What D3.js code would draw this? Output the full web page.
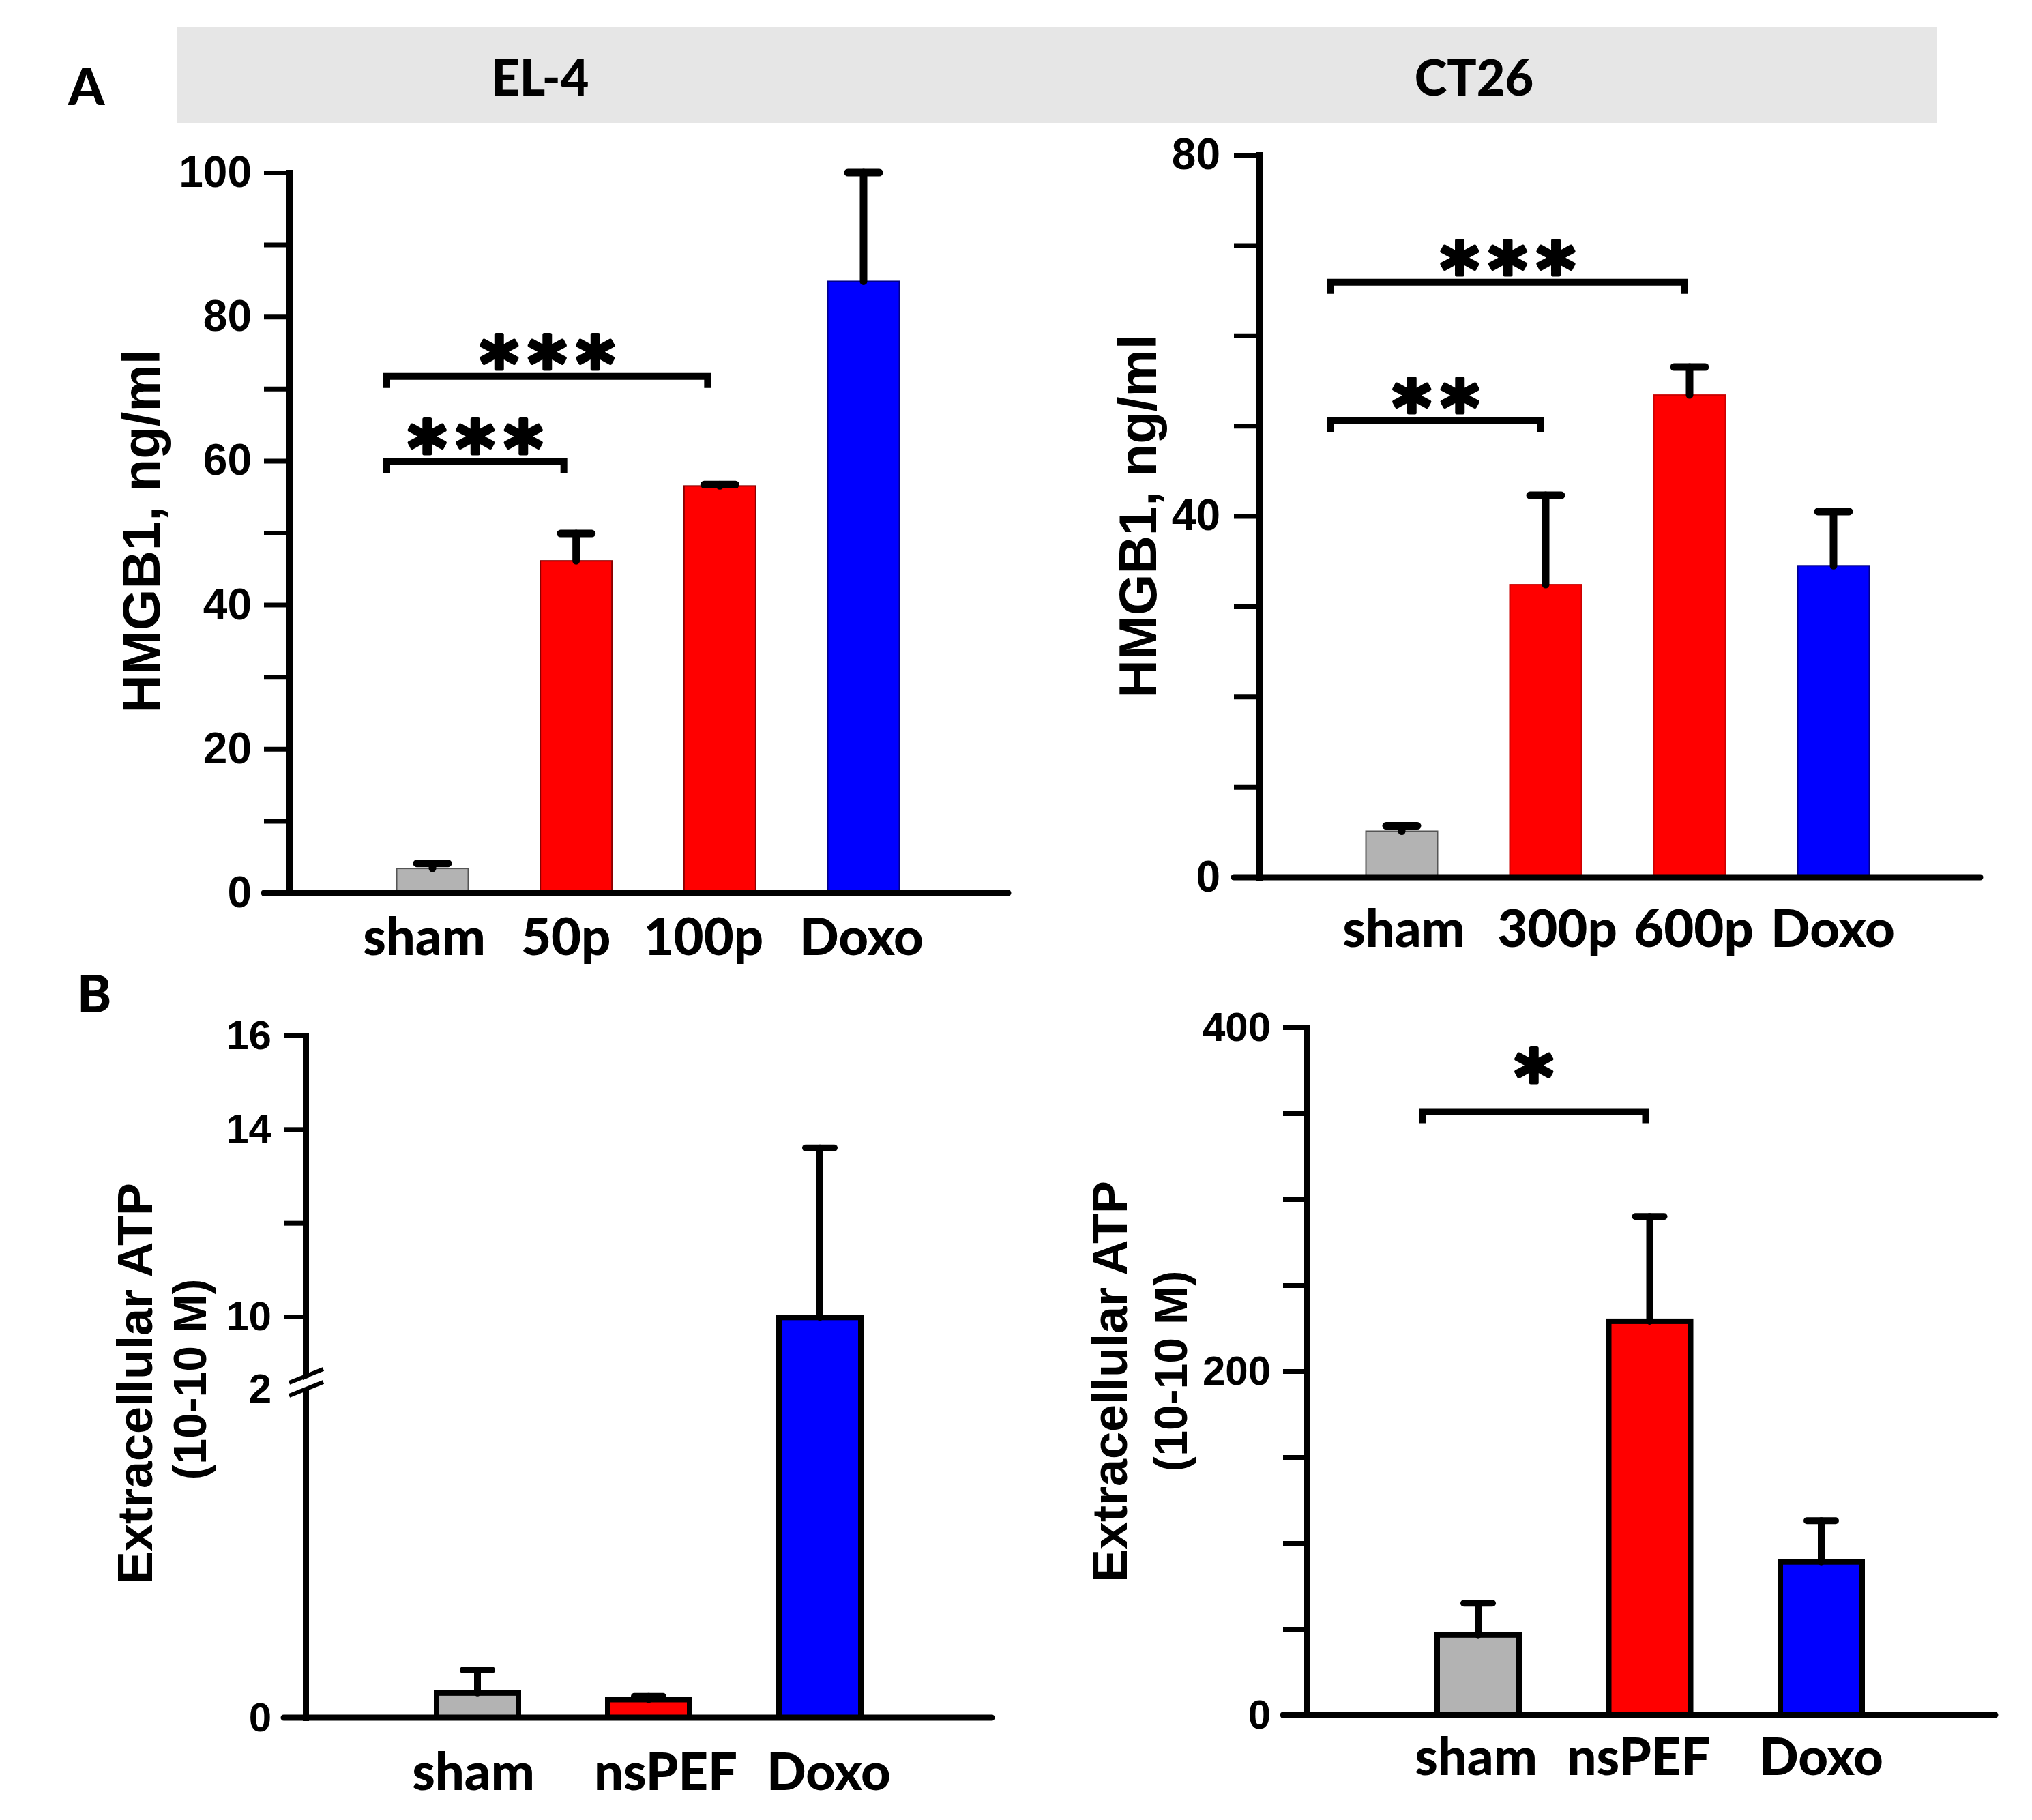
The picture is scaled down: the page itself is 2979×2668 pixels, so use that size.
<!DOCTYPE html>
<html>
<head>
<meta charset="utf-8">
<script src="https://cdn.jsdelivr.net/npm/d3@7"></script>
<style>
  body { margin: 0; background: #fff; }
  svg { display: block; }
</style>
</head>
<body>
<svg id="chart" width="2979" height="2668"></svg>
<script>
// ---- data ----
// A, EL-4: HMGB1 (ng/ml)
const el4Groups = ["sham", "50p", "100p", "Doxo"];
const el4Means = [3.4, 46.1, 56.5, 84.9];
const el4Errors = [0.7, 3.8, 0.2, 15.1];
const el4Ticks = [0, 10, 20, 30, 40, 50, 60, 70, 80, 90, 100];
const el4TickLabels = [0, 20, 40, 60, 80, 100];
const el4Brackets = [
    { from: "sham", to: "50p", value: 59.9, label: "***" },
    { from: "sham", to: "100p", value: 71.7, label: "***" },
];

// A, CT26: HMGB1 (ng/ml)
const ct26Groups = ["sham", "300p", "600p", "Doxo"];
const ct26Means = [5.1, 32.4, 53.4, 34.5];
const ct26Errors = [0.6, 9.9, 3.1, 6.0];
const ct26Ticks = [0, 10, 20, 30, 40, 50, 60, 70, 80];
const ct26TickLabels = [0, 40, 80];
const ct26Brackets = [
    { from: "sham", to: "300p", value: 50.6, label: "**" },
    { from: "sham", to: "600p", value: 65.9, label: "***" },
];

// B, EL-4: extracellular ATP (10-10 M), broken axis
const atpEl4Groups = ["sham", "nsPEF", "Doxo"];
const atpEl4Means = [0.15, 0.11, 9.9];
const atpEl4Errors = [0.14, 0.02, 3.7];
const atpEl4Ticks = [0, 2, 10, 12, 14, 16];
const atpEl4TickLabels = [0, 2, 10, 14, 16];
const atpEl4Brackets = [];

// B, CT26: extracellular ATP (10-10 M)
const atpCt26Groups = ["sham", "nsPEF", "Doxo"];
const atpCt26Means = [46.5, 229, 89];
const atpCt26Errors = [18.5, 61, 24];
const atpCt26Ticks = [0, 50, 100, 150, 200, 250, 300, 350, 400];
const atpCt26TickLabels = [0, 200, 400];
const atpCt26Brackets = [
    { from: "sham", to: "nsPEF", value: 351, label: "*" },
];

const hmgbTitle = "HMGB1, ng/ml";
const atpTitle = ["Extracellular ATP", "(10-10 M)"];

// ---- colours ----
const sham = "#b3b3b3";
const red = "#ff0000";
const blue = "#0000ff";
const fills = {
    sham: sham, "50p": red, "100p": red, "300p": red, "600p": red, nsPEF: red, Doxo: blue,
};
const thinEdges = { sham: "#555", "50p": "#8a0000", "100p": "#8a0000", "300p": "#c00", "600p": "#c00", Doxo: "#00008a" };

const armFont = "'Liberation Sans', Arial, sans-serif";
const calFont = "Lato, 'Open Sans', sans-serif";
const calWeight = 900;
const starFont = "'DejaVu Sans', sans-serif";

const svg = d3.select("#chart");

// header band
svg.append("rect")
    .attr("x", 260).attr("y", 40)
    .attr("width", 2580).attr("height", 140)
    .attr("fill", "#e6e6e6");

svg.append("text").attr("x", 792).attr("y", 140)
    .attr("text-anchor", "middle")
    .style("font-family", calFont).style("font-weight", calWeight).style("font-size", "72px")
    .text("EL-4");
svg.append("text").attr("x", 2161).attr("y", 140)
    .attr("text-anchor", "middle")
    .style("font-family", calFont).style("font-weight", calWeight).style("font-size", "72px")
    .text("CT26");

// panel letters
svg.append("text").attr("x", 100).attr("y", 154)
    .style("font-family", calFont).style("font-weight", calWeight).style("font-size", "76px")
    .text("A");
svg.append("text").attr("x", 113).attr("y", 1484)
    .style("font-family", calFont).style("font-weight", calWeight).style("font-size", "76px")
    .text("B");

function drawPanel(cfg) {
    const g = svg.append("g");

    const y = d3.scaleLinear().domain(cfg.yDomain).range(cfg.yRange);
    const x = d3.scalePoint().domain(cfg.groups).range(cfg.xCenters);
    const y0 = y(0);

    // bars
    g.append("g")
        .selectAll("rect")
        .data(cfg.groups)
        .join("rect")
        .attr("x", (d) => x(d) - cfg.barW / 2)
        .attr("y", (d, i) => y(cfg.means[i]))
        .attr("width", cfg.barW)
        .attr("height", (d, i) => y0 - y(cfg.means[i]))
        .attr("fill", (d) => fills[d])
        .attr("stroke", (d) => (cfg.thick ? "#000" : thinEdges[d]))
        .attr("stroke-width", cfg.thick ? 8 : 2);

    // error bars (upper only)
    const err = g.append("g")
        .attr("stroke", "#000")
        .attr("stroke-linecap", "round")
        .attr("stroke-width", cfg.errW);
    err.selectAll("line.stem")
        .data(cfg.groups)
        .join("line")
        .attr("class", "stem")
        .attr("x1", (d) => x(d)).attr("x2", (d) => x(d))
        .attr("y1", (d, i) => y(cfg.means[i]))
        .attr("y2", (d, i) => y(cfg.means[i] + cfg.errors[i]));
    err.selectAll("line.cap")
        .data(cfg.groups)
        .join("line")
        .attr("class", "cap")
        .attr("x1", (d) => x(d) - cfg.capW / 2)
        .attr("x2", (d) => x(d) + cfg.capW / 2)
        .attr("y1", (d, i) => y(cfg.means[i] + cfg.errors[i]))
        .attr("y2", (d, i) => y(cfg.means[i] + cfg.errors[i]));

    // y axis
    const yAxis = d3.axisLeft(y)
        .tickValues(cfg.ticks)
        .tickSize(cfg.tickLen)
        .tickSizeOuter(0)
        .tickPadding(cfg.tickPad)
        .tickFormat((d) => (cfg.tickLabels.includes(d) ? d : ""));
    const ax = g.append("g")
        .attr("transform", `translate(${cfg.axisX},0)`)
        .call(yAxis);
    ax.select(".domain")
        .attr("stroke-width", 9)
        .attr("stroke-linecap", "square");
    ax.selectAll(".tick line").attr("stroke-width", 7);
    ax.selectAll(".tick text")
        .style("font-family", armFont)
        .style("font-weight", 700)
        .style("font-size", cfg.tickFont + "px")
        .attr("fill", "#000");
    if (cfg.hideTick !== undefined) {
        ax.selectAll(".tick").filter((d) => d === cfg.hideTick)
            .select("line").remove();
    }

    // x axis (extends left of the y axis as the 0 tick)
    g.append("line")
        .attr("x1", cfg.axisX - cfg.tickLen).attr("x2", cfg.xEnd)
        .attr("y1", y0).attr("y2", y0)
        .attr("stroke", "#000").attr("stroke-width", 9)
        .attr("stroke-linecap", "round");

    // broken axis marks
    if (cfg.breakAt !== undefined) {
        const yb = y(cfg.breakAt) - 15;
        const bx = cfg.axisX;
        const brk = g.append("g");
        brk.append("path")
            .attr("d", `M${bx - 24},${yb + 10} L${bx + 26},${yb - 10} L${bx + 26},${yb + 3} L${bx - 24},${yb + 23} Z`)
            .attr("fill", "#fff");
        brk.append("line")
            .attr("x1", bx - 24).attr("y1", yb + 6).attr("x2", bx + 26).attr("y2", yb - 14)
            .attr("stroke", "#000").attr("stroke-width", 6);
        brk.append("line")
            .attr("x1", bx - 24).attr("y1", yb + 25).attr("x2", bx + 26).attr("y2", yb + 5)
            .attr("stroke", "#000").attr("stroke-width", 6);
    }

    // category labels
    g.append("g")
        .selectAll("text")
        .data(cfg.groups)
        .join("text")
        .attr("x", (d, i) => x(d) + cfg.labelDx[i])
        .attr("y", cfg.labelY)
        .attr("text-anchor", "middle")
        .style("font-family", calFont)
        .style("font-weight", calWeight)
        .style("font-size", "76px")
        .text((d) => d);

    // axis title
    cfg.title.forEach((t, i) => {
        g.append("text")
            .attr("transform", `translate(${cfg.titleX[i]},${cfg.titleY[i]}) rotate(-90)`)
            .attr("text-anchor", "middle")
            .style("font-family", armFont)
            .style("font-weight", 700)
            .style("font-size", cfg.titleFont[i] + "px")
            .text(t);
    });

    // significance brackets
    const br = g.append("g");
    cfg.brackets.forEach((b) => {
        const x1 = x(b.from) + cfg.brDx[0];
        const x2 = x(b.to) + cfg.brDx[1];
        const yb = y(b.value);
        br.append("path")
            .attr("d", `M${x1},${yb + 17} V${yb} H${x2} V${yb + 17}`)
            .attr("fill", "none")
            .attr("stroke", "#000")
            .attr("stroke-width", 10);
        br.append("text")
            .attr("x", (x1 + x2) / 2 + 7)
            .attr("y", yb - cfg.starGap + 62)
            .attr("text-anchor", "middle")
            .style("font-family", starFont)
            .style("font-weight", 700)
            .style("font-size", "108px")
            .style("letter-spacing", "14px")
            .attr("stroke", "#000")
            .attr("stroke-width", 5)
            .attr("stroke-linejoin", "round")
            .text(b.label);
    });
}

drawPanel({
    groups: el4Groups, means: el4Means, errors: el4Errors,
    ticks: el4Ticks, tickLabels: el4TickLabels, brackets: el4Brackets,
    yDomain: [0, 100], yRange: [1309, 253],
    xCenters: [634, 1266], barW: 105, axisX: 424, xEnd: 1478,
    tickLen: 37, tickPad: 18, tickFont: 64, errW: 11, capW: 46, thick: false,
    labelDx: [-12, -15, -24, -3], labelY: 1400,
    title: [hmgbTitle], titleX: [234], titleY: [779], titleFont: [78],
    brDx: [-67, -18], starGap: 43,
});

drawPanel({
    groups: ct26Groups, means: ct26Means, errors: ct26Errors,
    ticks: ct26Ticks, tickLabels: ct26TickLabels, brackets: ct26Brackets,
    yDomain: [0, 80], yRange: [1286, 227],
    xCenters: [2055, 2688], barW: 105, axisX: 1846, xEnd: 2903,
    tickLen: 37, tickPad: 20, tickFont: 64, errW: 11, capW: 46, thick: false,
    labelDx: [3, 17, 6, -1], labelY: 1388,
    title: [hmgbTitle], titleX: [1695], titleY: [757], titleFont: [78],
    brDx: [-104, -7], starGap: 43,
});

drawPanel({
    groups: atpEl4Groups, means: atpEl4Means, errors: atpEl4Errors,
    ticks: atpEl4Ticks, tickLabels: atpEl4TickLabels, brackets: atpEl4Brackets,
    yDomain: [0, 2, 10, 16], yRange: [2518, 2036, 1930, 1518],
    xCenters: [700, 1202], barW: 120, axisX: 448, xEnd: 1454,
    tickLen: 32, tickPad: 18, tickFont: 60, errW: 10, capW: 42, thick: true,
    labelDx: [-6, 25, 13], labelY: 2624,
    title: atpTitle, titleX: [223, 302], titleY: [2028, 2022], titleFont: [72, 68],
    brDx: [0, 0], starGap: 43, hideTick: 2, breakAt: 2,
});

drawPanel({
    groups: atpCt26Groups, means: atpCt26Means, errors: atpCt26Errors,
    ticks: atpCt26Ticks, tickLabels: atpCt26TickLabels, brackets: atpCt26Brackets,
    yDomain: [0, 400], yRange: [2514, 1506],
    xCenters: [2167, 2670], barW: 120, axisX: 1915, xEnd: 2925,
    tickLen: 34, tickPad: 18, tickFont: 60, errW: 10, capW: 42, thick: true,
    labelDx: [-3, -16, 0], labelY: 2602,
    title: atpTitle, titleX: [1652, 1740], titleY: [2025, 2010], titleFont: [72, 68],
    brDx: [-82, -6], starGap: 74,
});
</script>
</body>
</html>
